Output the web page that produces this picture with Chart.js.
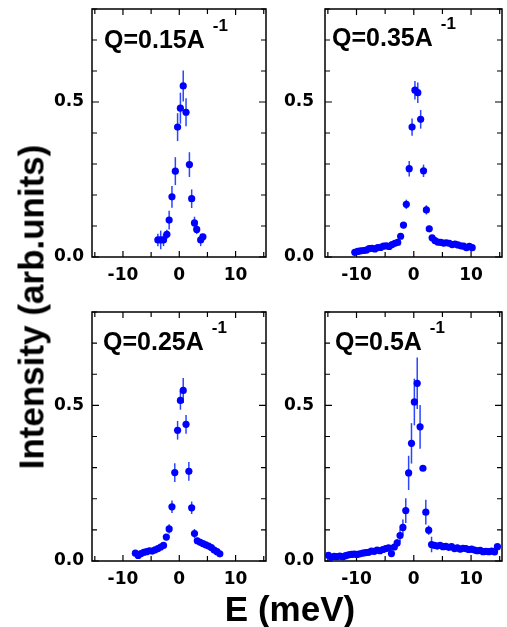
<!DOCTYPE html>
<html><head><meta charset="utf-8">
<script src="https://cdn.jsdelivr.net/npm/chart.js@4"></script>
<style>
html,body{margin:0;padding:0;background:#fff;width:507px;height:627px;overflow:hidden;position:relative}
canvas{position:absolute}
.lbl{position:absolute;font-family:"Liberation Sans",Arial,sans-serif;font-weight:bold;color:#000;white-space:nowrap;line-height:1}
.q{font-size:25px}
.q span{font-size:17px;position:relative;top:-17px;margin-left:8px}
.big{font-size:35px}
</style></head><body>
<canvas id="c1" width="240" height="295" style="left:40px;top:0px"></canvas>
<canvas id="c2" width="227" height="295" style="left:280px;top:0px"></canvas>
<canvas id="c3" width="240" height="300" style="left:40px;top:300px"></canvas>
<canvas id="c4" width="227" height="300" style="left:280px;top:300px"></canvas>
<div class="lbl q" style="left:104px;top:27px">Q=0.15A<span>-1</span></div>
<div class="lbl q" style="left:332px;top:25px">Q=0.35A<span>-1</span></div>
<div class="lbl q" style="left:103px;top:329px">Q=0.25A<span>-1</span></div>
<div class="lbl q" style="left:335px;top:329px">Q=0.5A<span>-1</span></div>
<div class="lbl big" style="left:31px;top:307px;transform:translate(-50%,-50%) rotate(-90deg)">Intensity (arb.units)</div>
<div class="lbl big" style="left:290px;top:591px;transform:translateX(-50%)">E (meV)</div>
<script>
// ---- tick data ----
const xTickValues = [-15, -10, -5, 0, 5, 10, 15];
const xLabeled = [-10, 0, 10];
const yTickValues = [0, 0.1, 0.2, 0.3, 0.4, 0.5, 0.6, 0.7, 0.8];
const yLabeled = [0, 0.5];

// ---- Q = 0.15 A^-1 ----
const e015 = [-3.8,-3.3,-2.8,-2.2,-1.8,-1.3,-0.7,-0.3,0.2,0.7,1.2,1.8,2.2,2.7,3.1,3.8,4.2];
const i015 = [0.055,0.055,0.055,0.073,0.119,0.194,0.277,0.419,0.480,0.552,0.467,0.298,0.188,0.110,0.089,0.055,0.065];
const err015 = [0.02,0.03,0.02,0.015,0.03,0.035,0.045,0.045,0.05,0.05,0.045,0.04,0.03,0.02,0.015,0.02,0.01];

// ---- Q = 0.35 A^-1 ----
const e035 = [-10.3,-9.8,-9.3,-8.8,-8.3,-7.8,-7.3,-6.8,-6.3,-5.8,-5.3,-4.8,-4.3,-3.8,-3.3,-2.8,-2.3,-1.8,-1.3,-0.8,-0.3,0.2,0.7,1.2,1.7,2.2,2.7,3.2,3.7,4.2,4.7,5.2,5.7,6.2,6.7,7.2,7.7,8.2,8.7,9.2,9.7,10.2];
const i035 = [0.015,0.018,0.020,0.021,0.022,0.027,0.028,0.026,0.030,0.031,0.035,0.036,0.034,0.040,0.044,0.047,0.067,0.103,0.170,0.285,0.419,0.538,0.530,0.444,0.278,0.152,0.091,0.062,0.053,0.048,0.047,0.045,0.046,0.044,0.040,0.042,0.039,0.036,0.035,0.030,0.034,0.030];
const err035 = [0.008,0.006,0.006,0.006,0.006,0.006,0.006,0.006,0.006,0.006,0.006,0.006,0.006,0.006,0.006,0.006,0.008,0.01,0.015,0.025,0.028,0.03,0.033,0.03,0.02,0.015,0.01,0.008,0.006,0.006,0.006,0.006,0.006,0.006,0.006,0.006,0.006,0.006,0.006,0.006,0.008,0.006];

// ---- Q = 0.25 A^-1 ----
const e025 = [-7.8,-7.3,-6.8,-6.3,-5.8,-5.3,-4.8,-4.3,-3.8,-3.3,-2.8,-2.3,-1.8,-1.3,-0.8,-0.3,0.2,0.7,1.2,1.7,2.2,2.7,3.2,3.7,4.2,4.7,5.2,5.7,6.2,6.7,7.2];
const i025 = [0.025,0.018,0.024,0.028,0.030,0.033,0.032,0.036,0.040,0.045,0.050,0.077,0.103,0.174,0.284,0.420,0.516,0.548,0.439,0.288,0.171,0.088,0.065,0.060,0.056,0.052,0.048,0.043,0.035,0.030,0.023];
const err025 = [0.008,0.008,0.008,0.008,0.008,0.008,0.008,0.008,0.008,0.008,0.008,0.01,0.015,0.02,0.03,0.03,0.03,0.04,0.03,0.03,0.02,0.015,0.01,0.008,0.008,0.008,0.008,0.008,0.008,0.008,0.008];

// ---- Q = 0.5 A^-1 ----
const e05 = [-14.9,-14.4,-13.9,-13.4,-12.9,-12.4,-11.9,-11.4,-10.9,-10.4,-9.9,-9.4,-8.9,-8.4,-7.9,-7.4,-6.9,-6.4,-5.9,-5.4,-4.9,-4.4,-3.9,-3.4,-2.9,-2.4,-1.9,-1.4,-0.9,-0.4,0.1,0.6,1.1,1.6,2.1,2.6,3.1,3.6,4.1,4.6,5.1,5.6,6.1,6.6,7.1,7.6,8.1,8.6,9.1,9.6,10.1,10.6,11.1,11.6,12.1,12.6,13.1,13.6,14.1,14.6];
const i05 = [0.018,0.012,0.015,0.014,0.016,0.013,0.017,0.020,0.021,0.022,0.021,0.023,0.025,0.027,0.028,0.032,0.031,0.035,0.033,0.037,0.040,0.042,0.024,0.045,0.058,0.082,0.108,0.162,0.283,0.378,0.511,0.571,0.431,0.298,0.157,0.099,0.053,0.050,0.048,0.050,0.046,0.047,0.044,0.046,0.040,0.042,0.038,0.041,0.040,0.037,0.038,0.035,0.033,0.034,0.030,0.031,0.030,0.032,0.029,0.046];
const err05 = [0.006,0.006,0.006,0.006,0.006,0.006,0.006,0.006,0.006,0.006,0.006,0.006,0.006,0.006,0.006,0.006,0.006,0.006,0.006,0.006,0.006,0.006,0.006,0.01,0.012,0.02,0.025,0.04,0.055,0.065,0.075,0.083,0.07,0.008,0.04,0.015,0.025,0.01,0.01,0.01,0.01,0.01,0.01,0.01,0.01,0.01,0.01,0.01,0.01,0.01,0.01,0.01,0.01,0.01,0.01,0.01,0.01,0.01,0.01,0.008];

const X_MIN = -15.5, X_MAX = 15.4, Y_MIN = 0, Y_MAX = 0.8;
const tickFont = {family: '"DejaVu Sans", sans-serif', weight: 'bold', size: 17};

const framePlugin = {
  id: 'frameAndErrors',
  beforeDatasetsDraw(chart) {
    const ctx = chart.ctx, a = chart.chartArea, xs = chart.scales.x, ys = chart.scales.y;
    ctx.save();
    // error bars
    const ds = chart.data.datasets[0];
    ctx.strokeStyle = '#2a46ff';
    ctx.lineWidth = 1.5;
    ds.data.forEach((p, i) => {
      const e = ds.errors[i];
      const px = xs.getPixelForValue(p.x);
      ctx.beginPath();
      ctx.moveTo(px, ys.getPixelForValue(p.y - e));
      ctx.lineTo(px, ys.getPixelForValue(p.y + e));
      ctx.stroke();
    });
    // frame
    ctx.strokeStyle = '#000';
    ctx.lineWidth = 1.5;
    ctx.strokeRect(a.left, a.top, a.right - a.left, a.bottom - a.top);
    // inward ticks on all four sides
    ctx.lineWidth = 1.2;
    xs.ticks.forEach(t => {
      const px = xs.getPixelForValue(t.value);
      const len = xLabeled.includes(t.value) ? 6 : 5;
      ctx.beginPath();
      ctx.moveTo(px, a.bottom); ctx.lineTo(px, a.bottom - len);
      ctx.moveTo(px, a.top); ctx.lineTo(px, a.top + len);
      ctx.stroke();
    });
    ys.ticks.forEach(t => {
      const py = ys.getPixelForValue(t.value);
      const len = yLabeled.includes(t.value) ? 7 : 5;
      ctx.beginPath();
      ctx.moveTo(a.left, py); ctx.lineTo(a.left + len, py);
      ctx.moveTo(a.right, py); ctx.lineTo(a.right - len, py);
      ctx.stroke();
    });
    ctx.restore();
  }
};

function makeChart(id, E, I, err, yW, xH, pad, yPad) {
  return new Chart(document.getElementById(id), {
    type: 'scatter',
    data: {datasets: [{
      data: E.map((x, i) => ({x: x, y: I[i]})),
      errors: err,
      backgroundColor: '#0000ff',
      borderWidth: 0,
      pointRadius: 3.6,
      pointHoverRadius: 3.6
    }]},
    options: {
      responsive: false, animation: false, devicePixelRatio: 1, events: [],
      layout: {padding: pad},
      plugins: {legend: {display: false}, tooltip: {enabled: false}},
      scales: {
        x: {
          type: 'linear', min: X_MIN, max: X_MAX,
          afterBuildTicks: s => { s.ticks = xTickValues.map(v => ({value: v})); },
          afterFit: s => { s.height = xH; s.paddingLeft = 0; s.paddingRight = 0; },
          ticks: {autoSkip: false, maxRotation: 0, minRotation: 0, padding: 8, color: '#000', font: tickFont,
                  callback: v => xLabeled.includes(v) ? String(v) : ''},
          grid: {display: false, drawTicks: false, tickLength: 0}, border: {display: false}
        },
        y: {
          type: 'linear', min: Y_MIN, max: Y_MAX,
          afterBuildTicks: s => { s.ticks = yTickValues.map(v => ({value: v})); },
          afterFit: s => { s.width = yW; s.paddingTop = 0; s.paddingBottom = 0; },
          ticks: {autoSkip: false, padding: yPad, color: '#000', font: tickFont,
                  callback: v => yLabeled.includes(v) ? v.toFixed(1) : ''},
          grid: {display: false, drawTicks: false, tickLength: 0}, border: {display: false}
        }
      }
    },
    plugins: [framePlugin]
  });
}

makeChart('c1', e015, i015, err015, 52, 38, {left: 0, top: 9, right: 14, bottom: 0}, 8);
makeChart('c2', e035, i035, err035, 45, 38, {left: 0, top: 9, right: 5, bottom: 0}, 11);
makeChart('c3', e025, i025, err025, 52, 39, {left: 0, top: 12, right: 14, bottom: 0}, 8);
makeChart('c4', e05, i05, err05, 45, 39, {left: 0, top: 12, right: 5, bottom: 0}, 11);
</script>
</body></html>
